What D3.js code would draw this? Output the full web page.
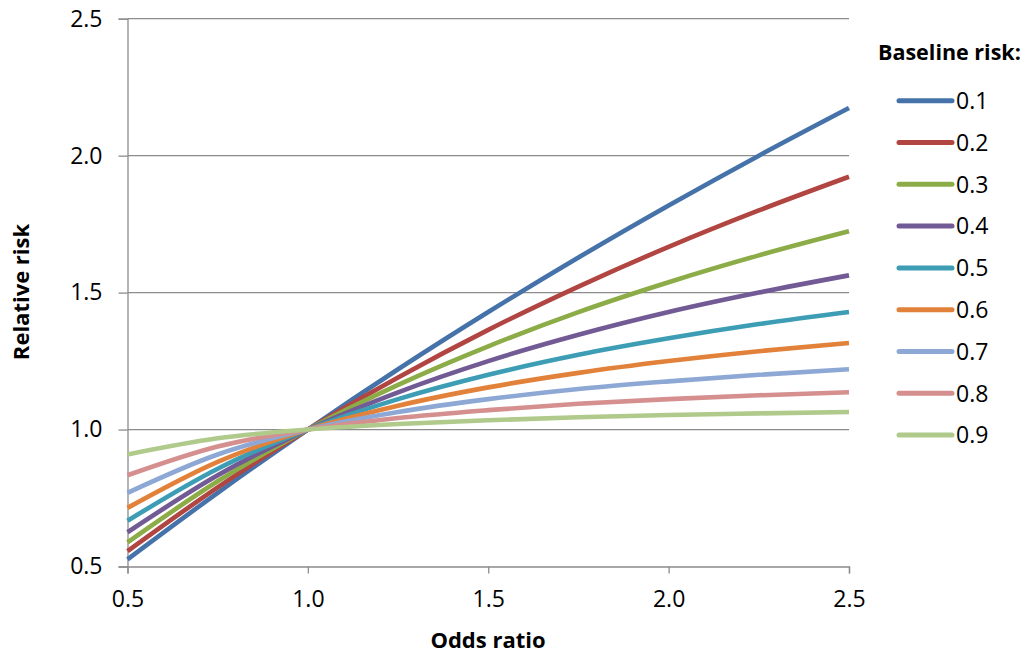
<!DOCTYPE html>
<html>
<head>
<meta charset="utf-8">
<script src="https://cdn.jsdelivr.net/npm/d3@7"></script>
<style>
  html, body { margin: 0; padding: 0; background: #fff; }
  svg { display: block; font-family: "Open Sans", Lato, "Liberation Sans", sans-serif; }
</style>
</head>
<body>
<svg id="chart" width="1025" height="655"></svg>
<script>
const oddsRatios = [0.5, 0.75, 1.0, 1.25, 1.5, 1.75, 2.0, 2.25, 2.5];
const baselineRisks = ["0.1", "0.2", "0.3", "0.4", "0.5", "0.6", "0.7", "0.8", "0.9"];
const rr01 = [0.526, 0.769, 1.0, 1.220, 1.429, 1.628, 1.818, 2.000, 2.174];
const rr02 = [0.556, 0.789, 1.0, 1.190, 1.364, 1.522, 1.667, 1.800, 1.923];
const rr03 = [0.588, 0.811, 1.0, 1.163, 1.304, 1.429, 1.538, 1.636, 1.724];
const rr04 = [0.625, 0.833, 1.0, 1.136, 1.250, 1.346, 1.429, 1.500, 1.563];
const rr05 = [0.667, 0.857, 1.0, 1.111, 1.200, 1.273, 1.333, 1.385, 1.429];
const rr06 = [0.714, 0.882, 1.0, 1.087, 1.154, 1.207, 1.250, 1.286, 1.316];
const rr07 = [0.769, 0.909, 1.0, 1.064, 1.111, 1.148, 1.176, 1.200, 1.220];
const rr08 = [0.833, 0.938, 1.0, 1.042, 1.071, 1.094, 1.111, 1.125, 1.136];
const rr09 = [0.909, 0.968, 1.0, 1.020, 1.034, 1.045, 1.053, 1.059, 1.064];
const seriesValues = [rr01, rr02, rr03, rr04, rr05, rr06, rr07, rr08, rr09];
const xTicks = [0.5, 1.0, 1.5, 2.0, 2.5];
const yTicks = [0.5, 1.0, 1.5, 2.0, 2.5];
const colors = ["#4672AA", "#B04541", "#8CAC47", "#725A94", "#3C9DB4", "#E2823A", "#8DA8D5", "#D48F8E", "#AFCA8A"];

const FONT = "'Open Sans', Lato, sans-serif";
const svg = d3.select("#chart");
const x = d3.scaleLinear().domain([0.5, 2.5]).range([127.5, 849]);
const y = d3.scaleLinear().domain([0.5, 2.5]).range([566.5, 18.7]);
const grid = "#8c8c8c";

// horizontal gridlines
svg.append("g").selectAll("line").data(yTicks.slice(1)).join("line")
  .attr("x1", x(0.5)).attr("x2", x(2.5))
  .attr("y1", d => y(d)).attr("y2", d => y(d))
  .attr("stroke", grid).attr("stroke-width", 1.3);

// y axis
const yAxis = svg.append("g").attr("transform", `translate(${x(0.5)},0)`)
  .call(d3.axisLeft(y).tickValues(yTicks).tickFormat(d3.format(".1f")).tickSize(9).tickPadding(16));
yAxis.select(".domain").attr("stroke", grid).attr("stroke-width", 1.3);
yAxis.selectAll(".tick line").attr("stroke", grid).attr("stroke-width", 1.3);
yAxis.selectAll("text").attr("font-size", 23).attr("fill", "#000").attr("font-family", FONT);

// x axis
const xAxis = svg.append("g").attr("transform", `translate(0,${y(0.5)})`)
  .call(d3.axisBottom(x).tickValues(xTicks).tickFormat(d3.format(".1f")).tickSize(7).tickPadding(17));
xAxis.select(".domain").attr("stroke", grid).attr("stroke-width", 1.3);
xAxis.selectAll(".tick line").attr("stroke", grid).attr("stroke-width", 1.3);
xAxis.selectAll("text").attr("font-size", 23).attr("fill", "#000").attr("font-family", FONT);

// lines
const line = d3.line().x((d, i) => x(oddsRatios[i])).y(d => y(d)).curve(d3.curveMonotoneX);
svg.append("g").selectAll("path").data(seriesValues).join("path")
  .attr("d", d => line(d))
  .attr("fill", "none")
  .attr("stroke", (d, i) => colors[i])
  .attr("stroke-width", 4.6)
  .attr("stroke-linejoin", "round");

// axis titles
svg.append("text").attr("x", 488).attr("y", 648).attr("text-anchor", "middle")
  .attr("font-size", 22).attr("font-weight", "bold").attr("font-family", FONT).text("Odds ratio");
svg.append("text").attr("transform", "translate(29,292) rotate(-90)").attr("text-anchor", "middle")
  .attr("font-size", 22).attr("font-weight", "bold").attr("font-family", FONT).text("Relative risk");

// legend
svg.append("text").attr("x", 878).attr("y", 60).attr("font-size", 21.5).attr("font-weight", "bold").attr("font-family", FONT).text("Baseline risk:");
const leg = svg.append("g").selectAll("g").data(baselineRisks).join("g")
  .attr("transform", (d, i) => `translate(0,${100.7 + i * 41.8})`);
leg.append("line").attr("x1", 899).attr("x2", 952).attr("y1", 0).attr("y2", 0)
  .attr("stroke", (d, i) => colors[i]).attr("stroke-width", 5).attr("stroke-linecap", "round");
leg.append("text").attr("x", 956).attr("y", 0).attr("dy", "0.36em").attr("font-size", 23).attr("font-family", FONT).text(d => d);
</script>
</body>
</html>
